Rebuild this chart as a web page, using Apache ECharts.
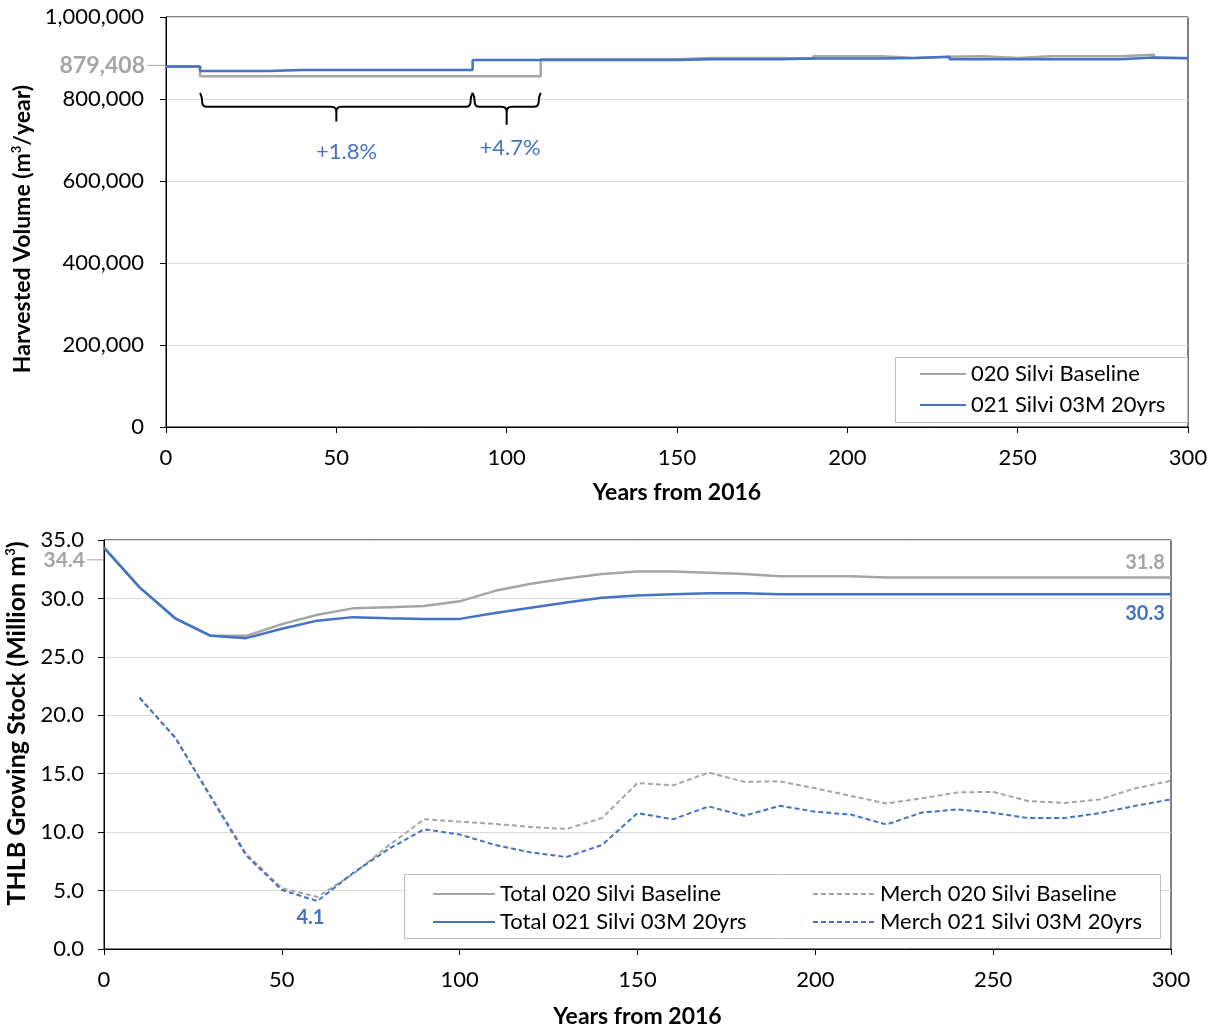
<!DOCTYPE html>
<html>
<head>
<meta charset="utf-8">
<script src="https://cdn.jsdelivr.net/npm/echarts@6/dist/echarts.min.js"></script>
<style>
  html, body { margin: 0; padding: 0; background: #fff; }
  #chart { width: 1214px; height: 1027px; }
</style>
</head>
<body>
<div id="chart"></div>
<script>
// years from 2016, one point per decade
const years = [0, 10, 20, 30, 40, 50, 60, 70, 80, 90, 100, 110, 120, 130, 140, 150,
  160, 170, 180, 190, 200, 210, 220, 230, 240, 250, 260, 270, 280, 290, 300];

// harvested volume (m3/year), value held until next decade
const harvestBaseline = [879408, 855500, 855500, 855500, 855500, 855500, 855500, 855500, 855500, 855500,
  855500, 897000, 897000, 897000, 897000, 900000, 900000, 900000, 899000, 904000, 904000,
  900000, 903000, 904000, 900000, 904000, 904000, 904000, 908000, 900000, 900000];
const harvestAlt = [879408, 868500, 868500, 871000, 871000, 871000, 871000, 871000, 871000, 895000,
  895000, 895000, 895000, 895000, 895000, 897000, 897000, 897000, 899000, 899000, 899000,
  900000, 903000, 897000, 897000, 897000, 897000, 897000, 901000, 899500, 899500];

// growing stock (million m3)
const totalBaseline = [34.35, 30.95, 28.3, 26.8, 26.8, 27.8, 28.6, 29.15, 29.25, 29.35, 29.75,
  30.65, 31.25, 31.7, 32.1, 32.3, 32.3, 32.2, 32.1, 31.9, 31.9, 31.9, 31.8, 31.8, 31.8,
  31.8, 31.8, 31.8, 31.8, 31.8, 31.8];
const totalAlt = [34.35, 30.95, 28.3, 26.8, 26.6, 27.4, 28.1, 28.4, 28.3, 28.25, 28.25,
  28.75, 29.2, 29.65, 30.05, 30.25, 30.35, 30.45, 30.45, 30.35, 30.35, 30.35, 30.35, 30.35,
  30.35, 30.35, 30.35, 30.35, 30.35, 30.35, 30.35];
const merchBaseline = [null, 21.5, 18.1, 13.1, 8.15, 5.2, 4.45, 6.4, 8.85, 11.1, 10.9,
  10.7, 10.45, 10.27, 11.2, 14.2, 14.0, 15.1, 14.3, 14.35, 13.75, 13.1, 12.45, 12.9, 13.4,
  13.45, 12.65, 12.5, 12.8, 13.75, 14.4];
const merchAlt = [null, 21.5, 18.1, 13.0, 8.0, 5.05, 4.1, 6.5, 8.55, 10.25, 9.8,
  8.9, 8.27, 7.87, 8.9, 11.63, 11.1, 12.2, 11.4, 12.25, 11.75, 11.5, 10.65, 11.68, 11.95,
  11.65, 11.2, 11.2, 11.63, 12.25, 12.8];

// brace annotations: [fromYear, toYear, top, bar, tip, labelYear, labelValue]
const braces = [
  [10, 90, 815000, 781000, 745000, 53, 670000],
  [90, 110, 815000, 781000, 737000, 101, 680000]
];
const braceLabels = ['+1.8%', '+4.7%'];

const GRAY = '#A5A5A5';
const BLUE = '#4472C4';
const FONT = 'Lato, "Open Sans", sans-serif';

const toXY = vals => years.map((y, i) => [y, vals[i]]);

function renderBrace(params, api) {
  const a = api.coord([api.value(0), api.value(2)]);
  const b = api.coord([api.value(1), api.value(3)]);
  const m = api.coord([(api.value(0) + api.value(1)) / 2, api.value(4)]);
  const xa = a[0], yt = a[1], xb = b[0], yb = b[1], xm = m[0], ytip = m[1];
  const r = 5;
  const d = `M${xa} ${yt} Q${xa + 2} ${yt + 4} ${xa + 2} ${yt + 8} L${xa + 2} ${yb - r} Q${xa + 2} ${yb} ${xa + 2 + r} ${yb} ` +
    `L${xm - r} ${yb} Q${xm} ${yb} ${xm} ${yb + r} L${xm} ${ytip} ` +
    `M${xm} ${yb + r} Q${xm} ${yb} ${xm + r} ${yb} L${xb - 2 - r} ${yb} Q${xb - 2} ${yb} ${xb - 2} ${yb - r} ` +
    `L${xb - 2} ${yt + 8} Q${xb - 2} ${yt + 4} ${xb} ${yt}`;
  const lp = api.coord([api.value(5), api.value(6)]);
  return {
    type: 'group',
    children: [
      { type: 'path', shape: { pathData: d }, style: { stroke: '#000', fill: null, lineWidth: 2 } },
      {
        type: 'text', x: lp[0], y: lp[1],
        style: { text: braceLabels[params.dataIndex], fill: BLUE, fontSize: 22, fontFamily: FONT, align: 'center', verticalAlign: 'middle' }
      }
    ]
  };
}

// invisible point marker carrying a value label
function valueMark(coord, text, color, position, offset) {
  return {
    coord: coord, value: text, symbol: 'circle', symbolSize: 1,
    itemStyle: { color: 'rgba(0,0,0,0)' },
    label: { show: true, position: position, offset: offset, formatter: text, color: color, fontWeight: 'bold', fontSize: 20, fontFamily: FONT, distance: 4 }
  };
}

// axis-side value label with a short leader tick left of the axis
function axisMark(coord, text, size, fontSize) {
  return {
    coord: coord, value: text, symbol: 'rect', symbolSize: [size, 1], symbolOffset: [-size / 2 - 1, 0],
    itemStyle: { color: GRAY },
    label: { show: true, position: 'left', formatter: text, color: GRAY, fontWeight: 'bold', fontSize: fontSize, fontFamily: FONT, distance: 2 }
  };
}

const chart = echarts.init(document.getElementById('chart'));

const axisText = { color: '#000', fontSize: 22, fontFamily: FONT };
const nameText = { color: '#000', fontSize: 23, fontWeight: 'bold', fontFamily: FONT };
const supRich = { sup: { fontSize: 13, fontWeight: 'bold', fontFamily: FONT, color: '#000', verticalAlign: 'top', lineHeight: 14 } };
const legendText = { color: '#000', fontSize: 22, fontFamily: FONT };

const option = {
  animation: false,
  grid: [
    { left: 166, right: 26, top: 17, bottom: 600, show: true, borderColor: '#000', borderWidth: 1, outerBoundsMode: 'none', containLabel: false },
    { left: 104, right: 43, top: 540, bottom: 78, show: true, borderColor: '#000', borderWidth: 1, outerBoundsMode: 'none', containLabel: false }
  ],
  xAxis: [
    {
      gridIndex: 0, type: 'value', min: 0, max: 300, interval: 50,
      name: 'Years from 2016', nameLocation: 'middle', nameGap: 54, nameTextStyle: nameText,
      axisLine: { lineStyle: { color: '#000' } },
      axisTick: { show: true, length: 6, lineStyle: { color: '#000' } },
      axisLabel: Object.assign({ margin: 20 }, axisText),
      splitLine: { show: false }
    },
    {
      gridIndex: 1, type: 'value', min: 0, max: 300, interval: 50,
      name: 'Years from 2016', nameLocation: 'middle', nameGap: 56, nameTextStyle: nameText,
      axisLine: { lineStyle: { color: '#000' } },
      axisTick: { show: true, length: 6, lineStyle: { color: '#000' } },
      axisLabel: Object.assign({ margin: 20 }, axisText),
      splitLine: { show: false }
    }
  ],
  yAxis: [
    {
      gridIndex: 0, type: 'value', min: 0, max: 1000000, interval: 200000,
      name: 'Harvested Volume (m{sup|3}/year)', nameLocation: 'middle', nameGap: 132,
      nameTextStyle: Object.assign({ rich: supRich, padding: [0, 14, 0, 0] }, nameText),
      axisLine: { show: true, lineStyle: { color: '#000' } },
      axisTick: { show: true, length: 6, lineStyle: { color: '#000' } },
      axisLabel: Object.assign({ margin: 22, formatter: v => v.toLocaleString('en-US') }, axisText),
      splitLine: { lineStyle: { color: '#d9d9d9' } }
    },
    {
      gridIndex: 1, type: 'value', min: 0, max: 35, interval: 5,
      name: 'THLB Growing Stock (Million m{sup|3})', nameLocation: 'middle', nameGap: 71,
      nameTextStyle: Object.assign({ rich: supRich, padding: [0, 0, 0, 42] }, nameText, { fontSize: 25 }),
      axisLine: { show: true, lineStyle: { color: '#000' } },
      axisTick: { show: true, length: 6, lineStyle: { color: '#000' } },
      axisLabel: Object.assign({ margin: 20, formatter: v => v.toFixed(1) }, axisText),
      splitLine: { lineStyle: { color: '#d9d9d9' } }
    }
  ],
  legend: [
    {
      data: ['020 Silvi Baseline', '021 Silvi 03M 20yrs'],
      orient: 'vertical', left: 914, top: 358, itemWidth: 46, itemHeight: 14, itemGap: 9,
      itemStyle: { opacity: 0 }, textStyle: legendText, z: 5
    },
    {
      data: ['Total 020 Silvi Baseline', 'Total 021 Silvi 03M 20yrs'],
      orient: 'vertical', left: 427, top: 878, itemWidth: 62, itemHeight: 14, itemGap: 6,
      itemStyle: { opacity: 0 }, textStyle: legendText, z: 5
    },
    {
      data: ['Merch 020 Silvi Baseline', 'Merch 021 Silvi 03M 20yrs'],
      orient: 'vertical', left: 807, top: 878, itemWidth: 62, itemHeight: 14, itemGap: 6,
      itemStyle: { opacity: 0 }, textStyle: legendText, z: 5
    }
  ],
  graphic: [
    { type: 'rect', left: 895, top: 357, z: 3, shape: { width: 292, height: 65 }, style: { fill: '#fff', stroke: '#bfbfbf', lineWidth: 1 } },
    { type: 'rect', left: 404, top: 874, z: 3, shape: { width: 756, height: 64 }, style: { fill: '#fff', stroke: '#bfbfbf', lineWidth: 1 } }
  ],
  series: [
    {
      name: '020 Silvi Baseline', type: 'line', xAxisIndex: 0, yAxisIndex: 0, step: 'end', clip: false,
      data: toXY(harvestBaseline), symbol: 'none', color: GRAY, lineStyle: { width: 2.5, color: GRAY },
      markPoint: { silent: true, animation: false, data: [axisMark([0, 882000], '879,408', 18, 23)] }
    },
    {
      name: '021 Silvi 03M 20yrs', type: 'line', xAxisIndex: 0, yAxisIndex: 0, step: 'end',
      data: toXY(harvestAlt), symbol: 'none', color: BLUE, lineStyle: { width: 2.5, color: BLUE }
    },
    {
      type: 'custom', xAxisIndex: 0, yAxisIndex: 0, data: braces, renderItem: renderBrace,
      encode: { x: [0, 1], y: [2, 3, 4] }, silent: true, z: 4
    },
    {
      name: 'Total 020 Silvi Baseline', type: 'line', xAxisIndex: 1, yAxisIndex: 1, clip: false,
      data: toXY(totalBaseline), symbol: 'none', color: GRAY, lineStyle: { width: 2.5, color: GRAY },
      markPoint: {
        silent: true, animation: false,
        data: [axisMark([0, 33.3], '34.4', 16, 21), valueMark([300, 31.8], '31.8', GRAY, 'top', [-26, 0])]
      }
    },
    {
      name: 'Merch 020 Silvi Baseline', type: 'line', xAxisIndex: 1, yAxisIndex: 1,
      data: toXY(merchBaseline), symbol: 'none', color: GRAY, lineStyle: { width: 2, color: GRAY, type: [5, 3] }
    },
    {
      name: 'Total 021 Silvi 03M 20yrs', type: 'line', xAxisIndex: 1, yAxisIndex: 1, clip: false,
      data: toXY(totalAlt), symbol: 'none', color: BLUE, lineStyle: { width: 2.5, color: BLUE },
      markPoint: { silent: true, animation: false, data: [valueMark([300, 30.35], '30.3', BLUE, 'bottom', [-26, 5])] }
    },
    {
      name: 'Merch 021 Silvi 03M 20yrs', type: 'line', xAxisIndex: 1, yAxisIndex: 1, clip: false,
      data: toXY(merchAlt), symbol: 'none', color: BLUE, lineStyle: { width: 2, color: BLUE, type: [5, 3] },
      markPoint: { silent: true, animation: false, data: [valueMark([60, 4.1], '4.1', BLUE, 'bottom', [-7, 2])] }
    }
  ]
};

chart.setOption(option);
window.addEventListener('resize', () => chart.resize());
</script>
</body>
</html>
